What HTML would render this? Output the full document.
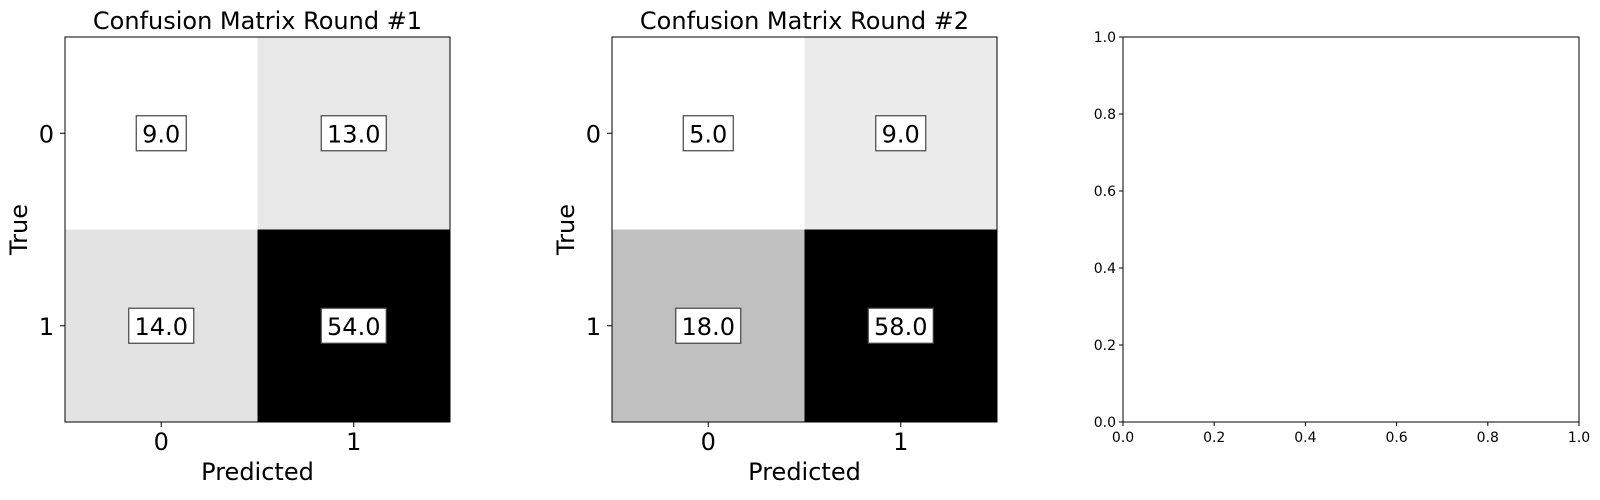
<!DOCTYPE html>
<html><head><meta charset="utf-8"><style>
body{margin:0;background:#fff;}
svg text{font-family:"DejaVu Sans","Liberation Sans",sans-serif;fill:#000;}
</style></head><body>
<svg id="fig" width="1600" height="495" xmlns="http://www.w3.org/2000/svg"></svg>
<script>
const classLabels = ["0","1"];
const round1Values = [[9,13],[14,54]];
const round2Values = [[5,9],[18,58]];
const titles = ["Confusion Matrix Round #1","Confusion Matrix Round #2"];
const emptyTicks = ["0.0","0.2","0.4","0.6","0.8","1.0"];

const NS="http://www.w3.org/2000/svg";
const svg=document.getElementById('fig');
function mk(tag,attrs,parent){const e=document.createElementNS(NS,tag);for(const k in attrs)e.setAttribute(k,attrs[k]);(parent||svg).appendChild(e);return e;}
const axTop=37,axSize=385;

function matrix(x0,vals,title,idx){
  const g=mk('g',{});
  
  
  const flat=vals.flat(),mn=Math.min(...flat),mx=Math.max(...flat);
  const n=classLabels.length,cw=axSize/n;
  const xs=i=>x0+cw*(i+0.5), ys=i=>axTop+cw*(i+0.5);
  for(let r=0;r<n;r++)for(let c=0;c<n;c++){
    const v=vals[r][c],t=(v-mn)/(mx-mn),gr=Math.round(255*(1-t));
    const rc=mk('rect',{x:x0+c*cw,y:axTop+r*cw,width:cw,height:cw,fill:`rgb(${gr},${gr},${gr})`},g);
    
    
    const label=v.toFixed(1),w=label.length*15+5;
    const b=mk('rect',{x:xs(c)-w/2,y:ys(r)-17.5,width:w,height:35,fill:'#fff',stroke:'#444','stroke-width':1.2},g);
    
    
    const tx=mk('text',{x:xs(c),y:ys(r)+9,'text-anchor':'middle','font-size':24},g);
    
    
    tx.textContent=label;
  }
  mk('rect',{x:x0,y:axTop,width:axSize,height:axSize,fill:'none',stroke:'#000','stroke-width':1},g);
  for(let i=0;i<n;i++){
    mk('line',{x1:xs(i),x2:xs(i),y1:axTop+axSize,y2:axTop+axSize+5,stroke:'#000'},g);
    const xt=mk('text',{x:xs(i),y:axTop+axSize+28,'text-anchor':'middle','font-size':24},g);
    
    
    xt.textContent=classLabels[i];
    mk('line',{x1:x0-5,x2:x0,y1:ys(i),y2:ys(i),stroke:'#000'},g);
    const yt=mk('text',{x:x0-11,y:ys(i)+9,'text-anchor':'end','font-size':24},g);
    
    
    yt.textContent=classLabels[i];
  }
  const tt=mk('text',{x:x0+axSize/2,y:29,'text-anchor':'middle','font-size':24},g);
  
  
  tt.textContent=title;
  const xl=mk('text',{x:x0+axSize/2,y:480,'text-anchor':'middle','font-size':24},g);
  
  
  xl.textContent='Predicted';
  const yl=mk('text',{x:0,y:0,'text-anchor':'middle','font-size':24,transform:`translate(${x0-38},${axTop+axSize/2}) rotate(-90)`},g);
  
  
  yl.textContent='True';
}
matrix(65,round1Values,titles[0],0);
matrix(612,round2Values,titles[1],1);

const ex0=1123,ew=456;
const g3=mk('g',{});


mk('rect',{x:ex0,y:axTop,width:ew,height:axSize,fill:'none',stroke:'#000','stroke-width':1},g3);
emptyTicks.forEach((t,i)=>{
  const v=parseFloat(t);
  const x=ex0+v*ew, y=axTop+axSize-v*axSize;
  mk('line',{x1:x,x2:x,y1:axTop+axSize,y2:axTop+axSize+4,stroke:'#000'},g3);
  const a=mk('text',{x:x,y:axTop+axSize+20,'text-anchor':'middle','font-size':14},g3);
  
  
  a.textContent=t;
  mk('line',{x1:ex0-4,x2:ex0,y1:y,y2:y,stroke:'#000'},g3);
  const b=mk('text',{x:ex0-7,y:y+5,'text-anchor':'end','font-size':14},g3);
  
  
  b.textContent=t;
});
</script>
</body></html>
